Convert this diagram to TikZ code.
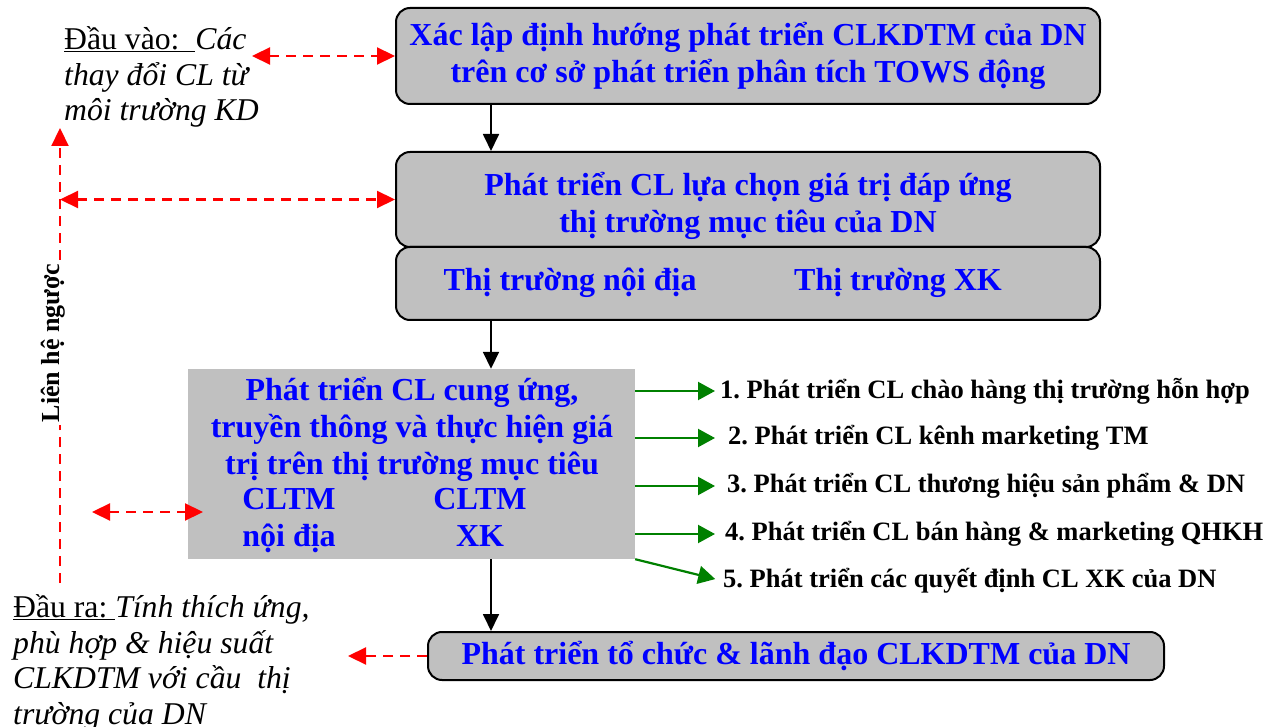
\documentclass[tikz,border=0pt]{standalone}
\usepackage{fontspec}
\setmainfont{Liberation Serif}
\usetikzlibrary{arrows.meta}
\definecolor{boxgray}{RGB}{192,192,192}
\definecolor{textblue}{RGB}{0,0,255}
\definecolor{linkgreen}{RGB}{0,128,0}
\tikzstyle{process} = [rectangle, rounded corners=14pt, draw=black, line width=2pt, fill=boxgray, text=textblue, align=center, font=\fontsize{32}{37}\selectfont\bfseries]
\tikzstyle{plainbox} = [rectangle, fill=boxgray]
\tikzstyle{bluetext} = [text=textblue, align=center, inner sep=0pt, font=\fontsize{32}{37}\selectfont\bfseries]
\tikzstyle{strategy} = [anchor=west, inner sep=0pt, font=\fontsize{26.5}{30}\selectfont\bfseries]
\tikzstyle{note} = [anchor=west, inner sep=0pt, align=left, font=\fontsize{31.7}{35.7}\selectfont]
\tikzstyle{arrow} = [line width=1.8pt, -{Triangle[length=17pt,width=16pt]}]
\tikzstyle{greenarrow} = [linkgreen, line width=2.2pt, -{Triangle[length=17pt,width=18pt]}]
\tikzstyle{feedback} = [red, line width=2.2pt, dash pattern=on 10pt off 7pt]
\tikzstyle{redtip} = [>={Triangle[length=18pt,width=17pt]}]

\begin{document}
\frenchspacing
\begin{tikzpicture}[x=1pt, y=-1pt]
\useasboundingbox (0,0) rectangle (1283,727);

\node (orient) [process, minimum width=704pt, minimum height=96pt] at (748,56) {Xác lập định hướng phát triển CLKDTM của DN\\trên cơ sở phát triển phân tích TOWS động};

\node (choice) [process, minimum width=704pt, minimum height=95pt] at (748,199.5) {};
\node (choicetext) [bluetext] at (748,206) {Phát triển CL lựa chọn giá trị đáp ứng\\thị trường mục tiêu của DN};

\node (market) [process, minimum width=704pt, minimum height=73pt] at (748,283.5) {};
\node (domestic) [bluetext] at (570,283) {Thị trường nội địa};
\node (export) [bluetext] at (898,283) {Thị trường XK};

\node (supply) [plainbox, minimum width=447pt, minimum height=190pt] at (411.5,464) {};
\node (supplytext) [bluetext] at (412,429) {Phát triển CL cung ứng,\\truyền thông và thực hiện giá\\trị trên thị trường mục tiêu};
\node (cltmdom) [bluetext, anchor=north] at (289,488) {CLTM\\nội địa};
\node (cltmxk) [bluetext, anchor=north] at (480,488) {CLTM\\XK};

\node (lead) [process, minimum width=736pt, minimum height=48pt] at (796,656) {Phát triển tổ chức \& lãnh đạo CLKDTM của DN};

\node (s1) [strategy] at (720,391) {1. Phát triển CL chào hàng thị trường hỗn hợp};
\node (s2) [strategy] at (728,438) {2. Phát triển CL kênh marketing TM};
\node (s3) [strategy] at (727,486) {3. Phát triển CL thương hiệu sản phẩm \& DN};
\node (s4) [strategy] at (725,534) {4. Phát triển CL bán hàng \& marketing QHKH};
\node (s5) [strategy] at (723,581) {5. Phát triển các quyết định CL XK của DN};

\node (input) [note] at (64,77) {\underline{Đầu vào:\ \ }\textit{Các}\\\textit{thay đổi CL từ}\\\textit{môi trường KD}};
\node (output) [note] at (13,663) {\underline{Đầu ra:\ }\textit{Tính thích ứng,}\\\textit{phù hợp \& hiệu suất}\\\textit{CLKDTM với cầu\ \ thị}\\\textit{trường của DN}};

\coordinate (fbfoot) at (60,583);
\coordinate (fbtop) at (60,128);
\coordinate (fbjoin) at (60,199.5);
\coordinate (inlink) at (252,56);
\coordinate (midleft) at (92,512);
\coordinate (midright) at (203,512);
\coordinate (outlink) at (348,656);

\draw [arrow] ([xshift=96pt]orient.south west) -- ([xshift=96pt]choice.north west);
\draw [arrow] ([xshift=96pt]market.south west) -- ([xshift=96pt]market.south west |- supply.north);
\draw [arrow] ([xshift=64pt]lead.north west |- supply.south) -- ([xshift=64pt]lead.north west);

\draw [greenarrow, shorten >=5pt] (supply.east |- s1.west) -- (s1.west);
\draw [greenarrow, shorten >=13pt] (supply.east |- s2.west) -- (s2.west);
\draw [greenarrow, shorten >=12pt] (supply.east |- s3.west) -- (s3.west);
\draw [greenarrow, shorten >=10pt] (supply.east |- s4.west) -- (s4.west);
\draw [greenarrow, shorten >=8pt] (supply.south east) -- (s5.west);

% feedback loop
\draw [feedback, redtip, ->] (fbfoot) -- (fbtop);
\draw [feedback, redtip, <->] (fbjoin) -- (choice.west);
\draw [feedback, redtip, <->] (inlink) -- (orient.west);
\draw [feedback, redtip, <->] (midleft) -- (midright);
\draw [feedback, redtip, ->] (lead.west) -- (outlink);

\node (loop) [rotate=90, fill=white, inner sep=3pt, font=\fontsize{26}{30}\selectfont\bfseries] at (53,343) {Liên hệ ngược};

\end{tikzpicture}
\end{document}
